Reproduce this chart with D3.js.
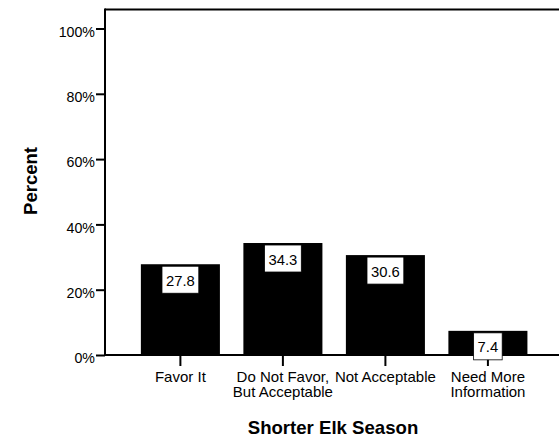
<!DOCTYPE html>
<html>
<head>
<meta charset="utf-8">
<script src="https://cdn.jsdelivr.net/npm/d3@7"></script>
<style>
  html, body { margin: 0; padding: 0; background: #fff; }
  svg { display: block; }
  text { font-family: "Liberation Sans", Arial, sans-serif; fill: #000; }
</style>
</head>
<body>
<svg id="chart" width="559" height="439"></svg>
<script>
const categories = ["Favor It", "Do Not Favor, But Acceptable", "Not Acceptable", "Need More Information"];
const categoryLines = [["Favor It"], ["Do Not Favor,", "But Acceptable"], ["Not Acceptable"], ["Need More", "Information"]];
const values = [27.8, 34.3, 30.6, 7.4];
const yTicks = [0, 20, 40, 60, 80, 100];
const yTitle = "Percent";
const xTitle = "Shorter Elk Season";

(function () {
const svg = d3.select("#chart");
const mLeft = 105, mTop = 9.5, mBottom = 355, rightEdge = 563.3;

const x = d3.scaleBand().domain(categories).range([mLeft, rightEdge]).paddingInner(0.229).paddingOuter(0.35);
const y = d3.scaleLinear().domain([0, 100]).range([mBottom, 28.5]);

// bars
svg.append("g").selectAll("rect").data(values).join("rect")
  .attr("x", (d, i) => x(categories[i]))
  .attr("y", d => y(d))
  .attr("width", x.bandwidth())
  .attr("height", d => y(0) - y(d))
  .attr("fill", "#000");

// frame top line
svg.append("line").attr("x1", mLeft).attr("x2", 559).attr("y1", mTop).attr("y2", mTop)
  .attr("stroke", "#000").attr("stroke-width", 2);

// y axis
const yAxis = svg.append("g").attr("transform", `translate(${mLeft},0)`)
  .call(d3.axisLeft(y).tickValues(yTicks).tickFormat(d => d + "%").tickSize(9).tickPadding(1));
yAxis.select(".domain").remove();
yAxis.selectAll(".tick line").attr("stroke", "#000").attr("stroke-width", 2);
yAxis.selectAll(".tick text").attr("font-size", 14.2).attr("dy", "0.55em")
  .style("font-family", "'Liberation Sans', Arial, sans-serif");
svg.append("line").attr("x1", mLeft).attr("x2", mLeft).attr("y1", mTop - 1).attr("y2", mBottom + 1)
  .attr("stroke", "#000").attr("stroke-width", 2);

// x axis
const xAxis = svg.append("g").attr("transform", `translate(0,${mBottom})`)
  .call(d3.axisBottom(x).tickSize(11).tickFormat(""));
xAxis.select(".domain").remove();
xAxis.selectAll(".tick line").attr("stroke", "#000").attr("stroke-width", 2);
svg.append("line").attr("x1", mLeft).attr("x2", 559).attr("y1", mBottom).attr("y2", mBottom)
  .attr("stroke", "#000").attr("stroke-width", 2);

// category labels
const catG = svg.append("g");
categories.forEach((c, i) => {
  const cx = x(c) + x.bandwidth() / 2;
  const t = catG.append("text")
    .attr("x", cx)
    .attr("y", 382)
    .attr("text-anchor", "middle")
    .attr("font-size", 15);
  categoryLines[i].forEach((ln, j) => {
    t.append("tspan").attr("x", cx).attr("dy", j === 0 ? 0 : 15).text(ln);
  });
});

// value labels
const lblG = svg.append("g");
values.forEach((v, i) => {
  const cx = x(categories[i]) + x.bandwidth() / 2;
  const g = lblG.append("g");
  const rect = g.append("rect").attr("fill", "#fff").attr("stroke", "#000").attr("stroke-width", 0.8);
  const t = g.append("text").attr("x", cx).attr("y", y(v) + 21.5)
    .attr("text-anchor", "middle").attr("font-size", 14.8).text(v.toFixed(1));
  const w = t.node().getComputedTextLength() + 8;
  rect.attr("x", cx - w / 2).attr("y", y(v) + 2).attr("width", w).attr("height", 27);
});

// axis titles
svg.append("text")
  .attr("transform", `translate(37,181) rotate(-90)`)
  .attr("text-anchor", "middle").attr("font-size", 18.5).attr("font-weight", "bold")
  .text(yTitle);
svg.append("text")
  .attr("x", 333).attr("y", 434)
  .attr("text-anchor", "middle").attr("font-size", 18.6).attr("font-weight", "bold")
  .text(xTitle);
})();
</script>
</body>
</html>
